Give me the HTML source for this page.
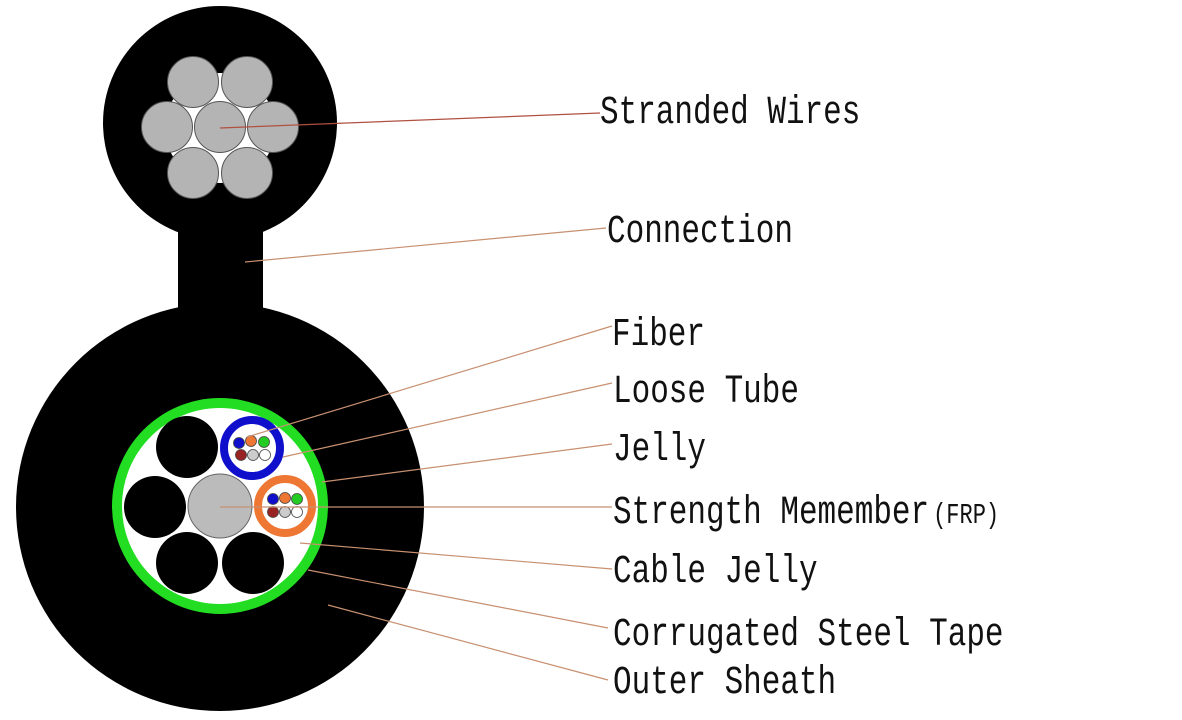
<!DOCTYPE html>
<html><head><meta charset="utf-8"><style>
html,body{margin:0;padding:0;background:#fff;}
svg{display:block;}
text{font-family:"Liberation Mono","Noto Serif CJK SC",monospace;font-size:31px;fill:#111;}
</style></head><body>
<svg width="1182" height="720" viewBox="0 0 1182 720" xmlns="http://www.w3.org/2000/svg">
<circle cx="220" cy="123" r="117" fill="#000"/>
<rect x="178" y="200" width="85" height="130" fill="#000"/>
<circle cx="220" cy="507" r="204" fill="#000"/>
<circle cx="220" cy="128" r="55" fill="#fff"/>
<g fill="#b4b4b4" stroke="#555" stroke-width="1">
<circle cx="193" cy="82" r="25.5"/><circle cx="247" cy="82" r="25.5"/>
<circle cx="167" cy="127" r="25.5"/><circle cx="273" cy="127" r="25.5"/>
<circle cx="193" cy="173" r="25.5"/><circle cx="247" cy="173" r="25.5"/>
<circle cx="220" cy="127" r="25.5"/>
</g>
<circle cx="220" cy="506" r="108" fill="#22dd22"/>
<circle cx="220" cy="506" r="98" fill="#fff"/>
<g fill="#000">
<circle cx="187" cy="447" r="31"/><circle cx="155" cy="507" r="31"/>
<circle cx="187" cy="563" r="31"/><circle cx="253" cy="563" r="31"/>
</g>
<circle cx="220" cy="506" r="32" fill="#bbb" stroke="#666" stroke-width="1"/>
<circle cx="252" cy="448" r="28" fill="#fff" stroke="#1010cc" stroke-width="8"/>
<circle cx="285" cy="506" r="27" fill="#fff" stroke="#ee7733" stroke-width="8"/>
<g stroke="#444" stroke-width="0.8">
<circle cx="239" cy="443" r="5.5" fill="#1010cc"/><circle cx="251" cy="441" r="5.5" fill="#ee7733"/><circle cx="264" cy="442" r="5.5" fill="#22cc22"/>
<circle cx="241" cy="455" r="5.5" fill="#992222"/><circle cx="253" cy="455" r="5.5" fill="#ccc"/><circle cx="265" cy="455" r="5.5" fill="#fff"/>
<circle cx="273" cy="499" r="5.5" fill="#1010cc"/><circle cx="285" cy="498" r="5.5" fill="#ee7733"/><circle cx="297" cy="499" r="5.5" fill="#22cc22"/>
<circle cx="273" cy="512" r="5.5" fill="#992222"/><circle cx="285" cy="512" r="5.5" fill="#ccc"/><circle cx="297" cy="512" r="5.5" fill="#fff"/>
</g>
<g stroke="#b05040" stroke-width="1.2" fill="none">
<line x1="220" y1="128" x2="600" y2="113"/>
</g>
<g stroke="#c89070" stroke-width="1.2" fill="none">
<line x1="245" y1="262" x2="606" y2="228"/>
<line x1="247" y1="437" x2="612" y2="326"/>
<line x1="283" y1="457" x2="612" y2="383"/>
<line x1="322" y1="482" x2="612" y2="444"/>
<line x1="220" y1="507" x2="612" y2="507"/>
<line x1="300" y1="543" x2="612" y2="569"/>
<line x1="308" y1="570" x2="608" y2="628"/>
<line x1="328" y1="605" x2="608" y2="680"/>
</g>
<text transform="translate(600,123) scale(1,1.3)">Stranded Wires</text>
<text transform="translate(607,242) scale(1,1.3)">Connection</text>
<text transform="translate(612,345) scale(1,1.3)">Fiber</text>
<text transform="translate(613,402) scale(1,1.3)">Loose Tube</text>
<text transform="translate(613,460) scale(1,1.3)">Jelly</text>
<text transform="translate(613,523) scale(1,1.3)">Strength Memember<tspan font-size="22" dx="4">(FRP)</tspan></text>
<text transform="translate(613,582) scale(1,1.3)">Cable Jelly</text>
<text transform="translate(613,645) scale(1,1.3)">Corrugated Steel Tape</text>
<text transform="translate(613,693) scale(1,1.3)">Outer Sheath</text>
</svg>
</body></html>
